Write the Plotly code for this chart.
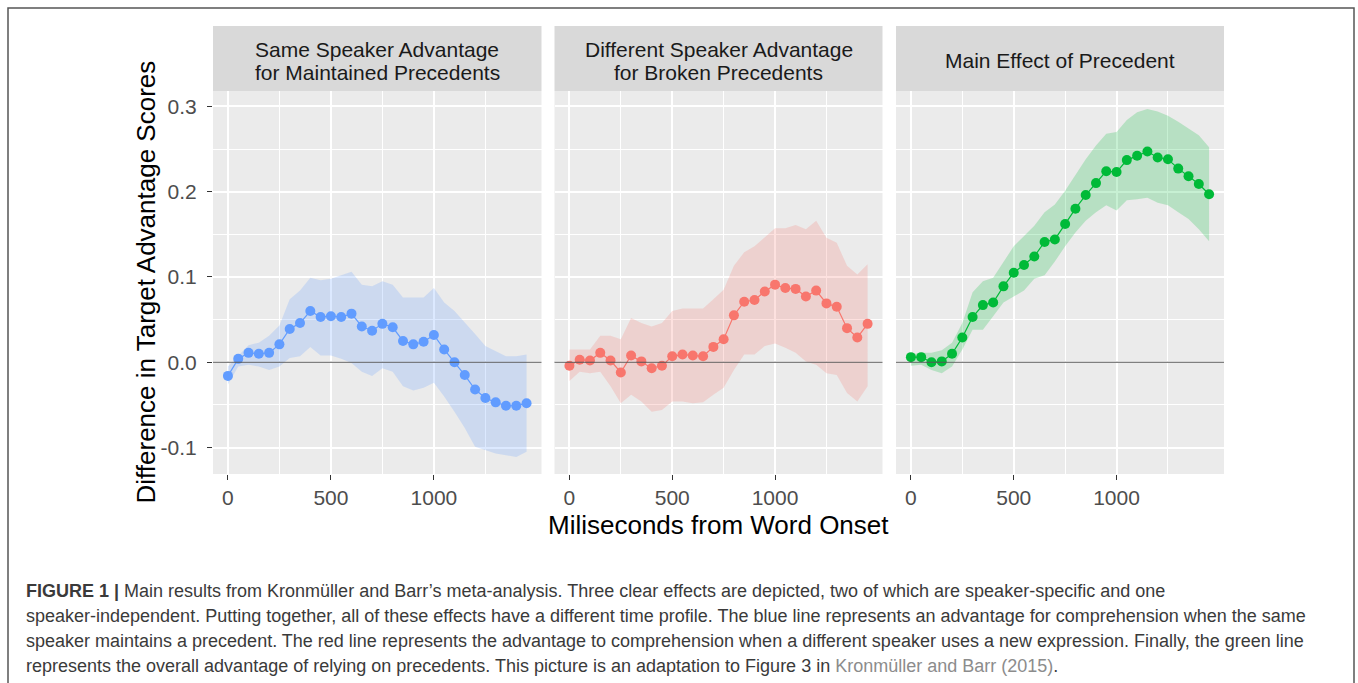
import plotly.graph_objects as go

# Tempo desde o início da palavra (ms)
ms = [0, 50, 100, 150, 200, 250, 300, 350, 400, 450, 500, 550, 600, 650, 700,
      750, 800, 850, 900, 950, 1000, 1050, 1100, 1150, 1200, 1250, 1300, 1350, 1400, 1450]

# Same Speaker Advantage for Maintained Precedents
same_mean = [-0.016, 0.004, 0.011, 0.010, 0.011, 0.021, 0.039, 0.046, 0.060, 0.053,
             0.054, 0.053, 0.057, 0.042, 0.037, 0.045, 0.041, 0.025, 0.021, 0.024,
             0.032, 0.015, 0.000, -0.015, -0.032, -0.042, -0.047, -0.051, -0.051, -0.048]
same_upper = [-0.005, 0.007, 0.020, 0.023, 0.031, 0.043, 0.074, 0.084, 0.099, 0.096,
              0.098, 0.102, 0.106, 0.091, 0.089, 0.095, 0.091, 0.076, 0.076, 0.076,
              0.087, 0.070, 0.060, 0.047, 0.033, 0.019, 0.013, 0.007, 0.007, 0.009]
same_lower = [-0.026, -0.005, -0.003, -0.005, -0.009, -0.005, 0.005, 0.007, 0.018, 0.008,
              0.008, 0.004, -0.001, -0.011, -0.016, -0.007, -0.011, -0.028, -0.033, -0.030,
              -0.024, -0.040, -0.058, -0.077, -0.099, -0.103, -0.107, -0.109, -0.111, -0.105]

# Different Speaker Advantage for Broken Precedents
diff_mean = [-0.004, 0.003, 0.002, 0.011, 0.002, -0.012, 0.008, 0.001, -0.007, -0.004,
             0.007, 0.009, 0.008, 0.007, 0.018, 0.027, 0.055, 0.071, 0.073, 0.083,
             0.091, 0.087, 0.086, 0.077, 0.084, 0.069, 0.065, 0.040, 0.029, 0.045]
diff_upper = [0.015, 0.015, 0.015, 0.031, 0.031, 0.027, 0.052, 0.046, 0.042, 0.046,
              0.060, 0.063, 0.063, 0.063, 0.074, 0.085, 0.113, 0.129, 0.136, 0.146,
              0.157, 0.157, 0.161, 0.156, 0.166, 0.146, 0.140, 0.113, 0.103, 0.115]
diff_lower = [-0.022, -0.011, -0.013, -0.011, -0.028, -0.048, -0.038, -0.046, -0.058, -0.056,
              -0.046, -0.046, -0.048, -0.047, -0.038, -0.030, -0.009, 0.009, 0.009, 0.019,
              0.022, 0.017, 0.011, 0.001, -0.003, -0.013, -0.015, -0.036, -0.046, -0.028]

# Main Effect of Precedent
main_mean = [0.006, 0.006, 0.000, 0.001, 0.010, 0.029, 0.053, 0.067, 0.070, 0.089,
             0.105, 0.114, 0.124, 0.141, 0.144, 0.162, 0.180, 0.196, 0.210, 0.224,
             0.223, 0.237, 0.242, 0.247, 0.240, 0.238, 0.227, 0.218, 0.209, 0.197]
main_upper = [0.009, 0.011, 0.011, 0.014, 0.023, 0.046, 0.082, 0.095, 0.099, 0.117,
              0.136, 0.148, 0.160, 0.176, 0.185, 0.201, 0.220, 0.238, 0.254, 0.268,
              0.270, 0.284, 0.293, 0.297, 0.294, 0.289, 0.282, 0.274, 0.266, 0.252]
main_lower = [-0.004, -0.003, -0.009, -0.013, -0.005, 0.015, 0.038, 0.038, 0.054, 0.070,
              0.077, 0.084, 0.098, 0.102, 0.118, 0.136, 0.152, 0.166, 0.176, 0.184,
              0.178, 0.190, 0.191, 0.193, 0.187, 0.184, 0.176, 0.168, 0.156, 0.142]

x_ticks = [0, 500, 1000]
y_ticks = [-0.1, 0.0, 0.1, 0.2, 0.3]
y_ticktext = ["-0.1", "0.0", "0.1", "0.2", "0.3"]

panel_titles = [
    ["Same Speaker Advantage", "for Maintained Precedents"],
    ["Different Speaker Advantage", "for Broken Precedents"],
    ["Main Effect of Precedent"],
]
panel_colors = ["#619CFF", "#F8766D", "#00BA38"]
ribbon_colors = ["rgba(97,156,255,0.22)", "rgba(248,118,109,0.22)", "rgba(0,186,56,0.22)"]

caption_lines = [
    "<b>FIGURE 1 |</b> Main results from Kronmüller and Barr’s meta-analysis. Three clear effects are depicted, two of which are speaker-specific and one",
    "speaker-independent. Putting together, all of these effects have a different time profile. The blue line represents an advantage for comprehension when the same",
    "speaker maintains a precedent. The red line represents the advantage to comprehension when a different speaker uses a new expression. Finally, the green line",
    "represents the overall advantage of relying on precedents. This picture is an adaptation to Figure 3 in <span style='color:#8c8c8c'>Kronmüller and Barr (2015)</span>.",
]

W, H = 1358, 683
FONT = "Liberation Sans, Arial, sans-serif"


def px(x):
    return x / W


def py(y):
    return 1 - y / H


# Posições dos painéis em pixels (esquerda, direita)
panels = [(213, 541.5), (554.5, 882.5), (896, 1224)]
top, bottom, strip_top = 91, 474, 26

series = [
    (same_mean, same_upper, same_lower),
    (diff_mean, diff_upper, diff_lower),
    (main_mean, main_upper, main_lower),
]

fig = go.Figure()
shapes = []
annotations = []

for i, ((mean, upper, lower), (x0, x1)) in enumerate(zip(series, panels)):
    n = "" if i == 0 else str(i + 1)
    xa, ya = "x" + n, "y" + n

    # Faixa de incerteza
    fig.add_trace(go.Scatter(x=ms, y=upper, xaxis=xa, yaxis=ya, mode="lines",
                             line=dict(width=0), hoverinfo="skip", showlegend=False))
    fig.add_trace(go.Scatter(x=ms, y=lower, xaxis=xa, yaxis=ya, mode="lines",
                             line=dict(width=0), fill="tonexty",
                             fillcolor=ribbon_colors[i], hoverinfo="skip", showlegend=False))
    fig.add_trace(go.Scatter(x=ms, y=mean, xaxis=xa, yaxis=ya, mode="lines+markers",
                             line=dict(color=panel_colors[i], width=1.2),
                             marker=dict(color=panel_colors[i], size=10),
                             showlegend=False))

    tick_style = dict(ticklen=5, tickwidth=1.2, tickcolor="#333333",
                      tickfont=dict(family=FONT, size=21, color="#4D4D4D"))
    fig.update_layout({
        "xaxis" + n: dict(domain=[px(x0), px(x1)], range=[-72.5, 1522.5],
                          tickvals=x_ticks, anchor=ya, ticks="outside",
                          showgrid=True, gridcolor="white", gridwidth=2, zeroline=False,
                          minor=dict(tickvals=[250, 750, 1250], showgrid=True,
                                     gridcolor="white", gridwidth=1),
                          **tick_style),
        "yaxis" + n: dict(domain=[py(bottom), py(top)], range=[-0.131, 0.318],
                          tickvals=y_ticks, ticktext=y_ticktext, anchor=xa,
                          showticklabels=(i == 0), ticks="outside" if i == 0 else "",
                          ticklabelstandoff=6,
                          showgrid=True, gridcolor="white", gridwidth=2, zeroline=False,
                          minor=dict(tickvals=[-0.05, 0.05, 0.15, 0.25], showgrid=True,
                                     gridcolor="white", gridwidth=1),
                          **tick_style),
    })

    # Fundo do painel e faixa do título
    shapes.append(dict(type="rect", xref="paper", yref="paper", layer="below",
                       x0=px(x0), x1=px(x1), y0=py(bottom), y1=py(top),
                       fillcolor="#EBEBEB", line=dict(width=0)))
    shapes.append(dict(type="rect", xref="paper", yref="paper",
                       x0=px(x0), x1=px(x1), y0=py(top), y1=py(strip_top),
                       fillcolor="#D9D9D9", line=dict(width=0)))
    # Linha de referência em zero
    shapes.append(dict(type="line", xref=xa + " domain", yref=ya, x0=0, x1=1, y0=0, y1=0,
                       line=dict(color="#555555", width=1)))

    lines = panel_titles[i]
    ys = [60] if len(lines) == 1 else [49.5, 72.5]
    for txt, yy in zip(lines, ys):
        annotations.append(dict(text=txt, xref="paper", yref="paper", showarrow=False,
                                x=px((x0 + x1) / 2), y=py(yy), xanchor="center", yanchor="middle",
                                font=dict(family=FONT, size=21, color="#1A1A1A")))

# Títulos dos eixos
annotations.append(dict(text="Miliseconds from Word Onset", xref="paper", yref="paper",
                        showarrow=False, x=px(718.5), y=py(525), xanchor="center", yanchor="middle",
                        font=dict(family=FONT, size=26, color="black")))
annotations.append(dict(text="Difference in Target Advantage Scores", xref="paper", yref="paper",
                        showarrow=False, x=px(145), y=py(282.5), xanchor="center", yanchor="middle",
                        textangle=-90, font=dict(family=FONT, size=26, color="black")))

# Legenda da figura
for k, line in enumerate(caption_lines):
    annotations.append(dict(text=line, xref="paper", yref="paper", showarrow=False,
                            x=px(24), y=py(590.5 + 25.2 * k), xanchor="left", yanchor="middle",
                            font=dict(family=FONT, size=18, color="#3a3a3a")))

# Moldura externa
shapes.append(dict(type="rect", xref="paper", yref="paper", x0=px(8), x1=px(1354),
                   y0=py(700), y1=py(8), line=dict(color="#555555", width=1.5)))

fig.update_layout(
    width=W, height=H,
    margin=dict(l=0, r=0, t=0, b=0),
    paper_bgcolor="white", plot_bgcolor="rgba(0,0,0,0)",
    shapes=shapes, annotations=annotations,
    showlegend=False,
)

# Remove a margem padrão do <body> para o gráfico ocupar a janela toda
fig.write_html("out.html", config={"displayModeBar": False},
               post_script="document.body.style.margin='0';")
